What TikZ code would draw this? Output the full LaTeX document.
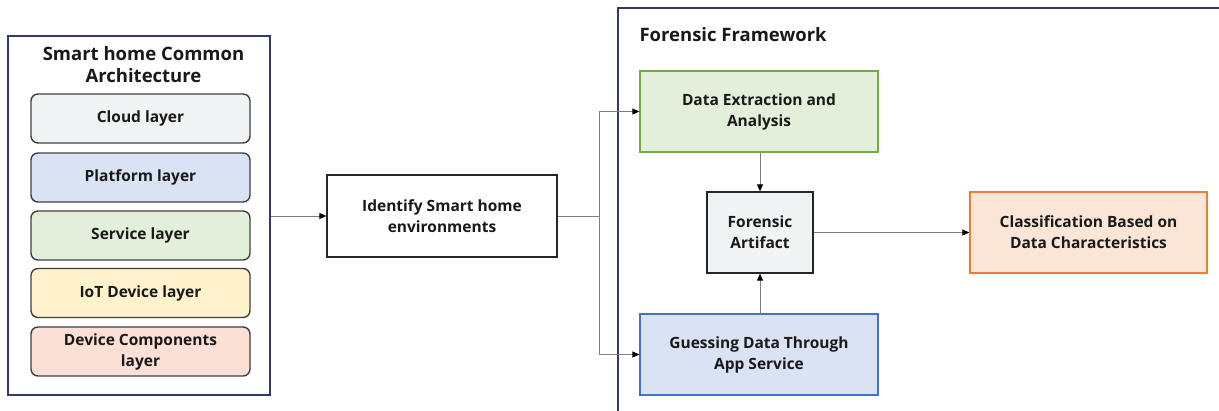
\documentclass[tikz,border=0pt]{standalone}
\usepackage{fontspec}
\setmainfont{Open Sans}
\usetikzlibrary{arrows.meta}
\definecolor{navy}{HTML}{2F3B6B}
\definecolor{layerline}{HTML}{404040}
\definecolor{cloudfill}{HTML}{F2F3F5}
\definecolor{platfill}{HTML}{DAE3F3}
\definecolor{servfill}{HTML}{E2EFDA}
\definecolor{iotfill}{HTML}{FFF2CC}
\definecolor{devfill}{HTML}{FBE1D5}
\definecolor{greenline}{HTML}{70AD47}
\definecolor{blueline}{HTML}{4472C4}
\definecolor{orangeline}{HTML}{ED7D31}
\definecolor{orangefill}{HTML}{FBE5D6}
\definecolor{connline}{HTML}{7F7F7F}
\tikzset{
  txt/.style={font=\fontsize{15.5}{21}\selectfont\bfseries, text=black!90, align=center},
  ttl/.style={font=\fontsize{18.5}{22}\selectfont\bfseries, text=black!90, align=center},
  layer/.style={txt, draw=layerline, line width=1.4pt, rounded corners=7pt, minimum width=219pt, minimum height=49pt, inner sep=0pt},
  fbox/.style={txt, line width=1.3pt, minimum height=81pt, inner sep=0pt},
  conn/.style={draw=connline, line width=0.9pt},
  arr/.style={conn, -{Triangle[length=7pt,width=6pt,black]}},
  frame/.style={draw=navy, line width=1.8pt}
}
\begin{document}
\begin{tikzpicture}[x=1pt,y=-1pt]
\useasboundingbox[fill=white] (0,0) rectangle (1219,411);
% left frame
\node[frame, minimum width=262pt, minimum height=359pt, inner sep=0pt] (arch) at (139,215.5) {};
\node[ttl] (archttl) at (143.5,64.5) {Smart home Common\\Architecture};
\node[layer, fill=cloudfill] (cloud) at (140.5,118.5) {Cloud layer};
\node[layer, fill=platfill] (plat) at (140.5,177.5) {Platform layer};
\node[layer, fill=servfill] (serv) at (140.5,235.5) {Service layer};
\node[layer, fill=iotfill] (iot) at (140.5,293) {IoT Device layer};
\node[layer, fill=devfill] (dev) at (140.5,351.5) {Device Components\\layer};
% identify
\node[fbox, draw=black!85, fill=white, minimum width=230pt, minimum height=82pt] (ident) at (442,216) {Identify Smart home\\environments};
% right frame (clipped by page)
\coordinate (fTL) at (618,8);
\coordinate (fTR) at (1219,8);
\coordinate (fBL) at (618,411);
\draw[frame] (fTR) -- (fTL) -- (fBL);
\node[ttl, anchor=west] (fwttl) at (636,34.5) {Forensic Framework};
% framework boxes
\node[fbox, draw=greenline, fill=servfill, minimum width=238pt] (dea) at (759,111.5) {Data Extraction and\\Analysis};
\node[fbox, draw=blueline, fill=platfill, minimum width=238pt] (guess) at (759,354.5) {Guessing Data Through\\App Service};
\node[fbox, draw=black!85, fill=cloudfill, minimum width=106pt] (art) at (760,232.5) {Forensic\\Artifact};
\node[fbox, draw=orangeline, fill=orangefill, minimum width=237pt] (cls) at (1088.5,232.5) {Classification Based on\\Data Characteristics};
% connectors
\coordinate (br) at (599,216);
\draw[arr] (arch.east |- ident.west) -- (ident.west);
\draw[conn] (ident.east) -- (br);
\draw[arr] (br) |- (dea.west);
\draw[arr] (br) |- (guess.west);
\draw[arr] (dea.south -| art.north) -- (art.north);
\draw[arr] (guess.north -| art.south) -- (art.south);
\draw[arr] (art.east) -- (cls.west);
\end{tikzpicture}
\end{document}
